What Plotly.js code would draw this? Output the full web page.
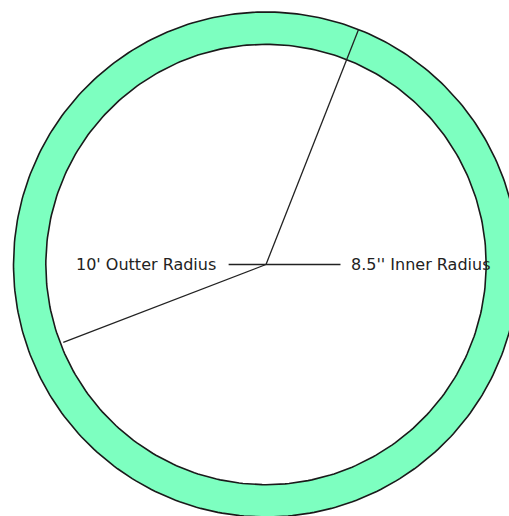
<!DOCTYPE html>
<html>
<head>
<meta charset="utf-8">
<script src="https://cdn.plot.ly/plotly-3.0.1.min.js"></script>
<style>html,body{margin:0;padding:0;background:#fff;}#chart{width:509px;height:516px;}</style>
</head>
<body>
<div id="chart"></div>
<script>
// Ring radii as drawn (units: feet/inches as labelled)
var ringNames = ["outer", "inner"];
var ringRadii = [10, 8.72];
var ringFills = ["#7dffc0", "#ffffff"];

// Radius lines: angle (degrees, from +x, counter-clockwise) and length
var lineAngles = [68.5, 201, 0, 180];
var lineLengths = [10, 8.6, 2.95, 1.48];

// Labels
var labelTexts = ["10' Outter Radius", "8.5'' Inner Radius"];
var labelX = [-1.9, 3.3];
var labelY = [0, 0];
var labelAnchors = ["right", "left"];

var traces = [];
for (var r = 0; r < ringRadii.length; r++) {
  var xs = [], ys = [];
  for (var i = 0; i <= 360; i++) {
    var a = i * Math.PI / 180;
    xs.push(ringRadii[r] * Math.cos(a));
    ys.push(ringRadii[r] * Math.sin(a));
  }
  traces.push({
    type: "scatter", mode: "lines", x: xs, y: ys, name: ringNames[r],
    fill: "toself", fillcolor: ringFills[r],
    line: {color: "#1a1a1a", width: 1.6}, hoverinfo: "skip", showlegend: false
  });
}
for (var k = 0; k < lineAngles.length; k++) {
  var t = lineAngles[k] * Math.PI / 180;
  traces.push({
    type: "scatter", mode: "lines",
    x: [0, lineLengths[k] * Math.cos(t)], y: [0, lineLengths[k] * Math.sin(t)],
    line: {color: "#222", width: 1.3}, hoverinfo: "skip", showlegend: false
  });
}

var annotations = labelTexts.map(function (txt, i) {
  return {
    x: labelX[i], y: labelY[i], xref: "x", yref: "y", text: txt, showarrow: false,
    xanchor: labelAnchors[i], yanchor: "middle",
    font: {family: "DejaVu Sans", size: 16, color: "#222"}
  };
});

var s = 25.25, cx = 266, cy = 264.5;
var layout = {
  width: 509, height: 516,
  margin: {l: 0, r: 0, t: 0, b: 0},
  paper_bgcolor: "#fff", plot_bgcolor: "#fff",
  showlegend: false,
  xaxis: {range: [-cx / s, (509 - cx) / s], visible: false, fixedrange: true},
  yaxis: {range: [-(516 - cy) / s, cy / s], visible: false, fixedrange: true},
  annotations: annotations
};

Plotly.newPlot("chart", traces, layout, {displayModeBar: false, staticPlot: true});
</script>
</body>
</html>
